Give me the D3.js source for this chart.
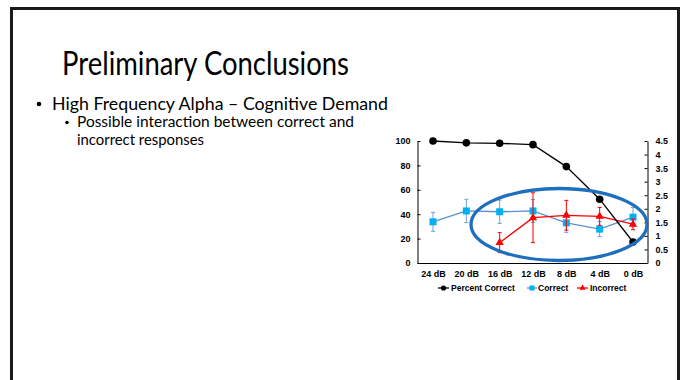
<!DOCTYPE html>
<html><head><meta charset="utf-8">
<script src="https://cdn.jsdelivr.net/npm/d3@7/dist/d3.min.js"></script>
<style>body{margin:0;background:#fff}svg{display:block}</style>
</head><body>
<svg id="c" width="685" height="380"></svg>
<script>
const categories = ["24 dB","20 dB","16 dB","12 dB","8 dB","4 dB","0 dB"];
const percentCorrect = [100, 98.5, 98.1, 97, 79, 52.3, 17.2];
const correct = [1.52, 1.92, 1.89, 1.92, 1.48, 1.25, 1.69];
const correctErr = [0.35, 0.43, 0.43, 0.42, 0.35, 0.28, 0.36];
const incorrect = [null, null, 0.75, 1.67, 1.76, 1.72, 1.43];
const incorrectErr = [null, null, 0.37, 0.92, 0.55, 0.33, 0.2];
const leftTicks = [0,20,40,60,80,100];
const rightTicks = [0,0.5,1,1.5,2,2.5,3,3.5,4,4.5];
const legendLabels = ["Percent Correct","Correct","Incorrect"];

const svg = d3.select("#c");
// slide border
svg.append("path").attr("d","M11.5,385 V8.5 H678.5 V385").attr("fill","none").attr("stroke","#1a1a1a").attr("stroke-width",3);

const slideFont = "Lato, 'Open Sans', sans-serif";
svg.append("text").attr("x",62).attr("y",75).attr("font-family",slideFont).attr("font-size",33)
  .attr("textLength",287).attr("lengthAdjust","spacingAndGlyphs").attr("fill","#000").text("Preliminary Conclusions");
svg.append("circle").attr("cx",39).attr("cy",104).attr("r",2.3).attr("fill","#000");
svg.append("text").attr("x",52).attr("y",110).attr("font-family",slideFont).attr("font-size",18)
  .attr("textLength",336).attr("lengthAdjust","spacingAndGlyphs").text("High Frequency Alpha – Cognitive Demand");
svg.append("circle").attr("cx",67).attr("cy",122.5).attr("r",1.8).attr("fill","#000");
svg.append("text").attr("x",77).attr("y",127).attr("font-family",slideFont).attr("font-size",14.5)
  .attr("textLength",277).attr("lengthAdjust","spacingAndGlyphs").text("Possible interaction between correct and");
svg.append("text").attr("x",77).attr("y",145).attr("font-family",slideFont).attr("font-size",14.5)
  .attr("textLength",127).attr("lengthAdjust","spacingAndGlyphs").text("incorrect responses");

const x = d3.scalePoint().domain(categories).range([433,633]);
const yL = d3.scaleLinear().domain([0,100]).range([263,141]);
const yR = d3.scaleLinear().domain([0,4.5]).range([263,141]);
const chartFont = "'Liberation Sans', Arial, sans-serif";

const gL = svg.append("g").attr("transform","translate(417.5,0)")
  .call(d3.axisLeft(yL).tickValues(leftTicks).tickSize(-3).tickSizeOuter(0).tickPadding(7).tickFormat(d3.format("d")));
const gR = svg.append("g").attr("transform","translate(647.5,0)")
  .call(d3.axisRight(yR).tickValues(rightTicks).tickSize(-3).tickSizeOuter(0).tickPadding(8).tickFormat(d=>String(d)));
const gB = svg.append("g").attr("transform","translate(0,263)")
  .call(d3.axisBottom(x).tickSize(0).tickPadding(8));
gB.select(".domain").attr("d","M417.5,0.5H647.5");
[gL,gR,gB].forEach(g=>{
  g.selectAll("text").attr("font-family",chartFont).attr("font-size",9).attr("font-weight","bold").attr("fill","#000");
  g.selectAll("line,path").attr("stroke","#000").attr("stroke-width",1);
});

// Correct series (right axis)
const corrColor = "#00B0F0", corrLine = "#5B8FD0";
const corrData = categories.map((c,i)=>({c,v:correct[i],e:correctErr[i]}));
svg.append("g").selectAll("path").data(corrData).join("path")
  .attr("d",d=>`M${x(d.c)},${yR(d.v+d.e)}V${yR(d.v-d.e)}M${x(d.c)-2},${yR(d.v+d.e)}H${x(d.c)+2}M${x(d.c)-2},${yR(d.v-d.e)}H${x(d.c)+2}`)
  .attr("stroke","#6A9FD8").attr("stroke-width",1).attr("fill","none");
svg.append("path").datum(corrData).attr("d",d3.line().x(d=>x(d.c)).y(d=>yR(d.v)))
  .attr("fill","none").attr("stroke",corrLine).attr("stroke-width",1.3);
svg.append("g").selectAll("rect").data(corrData).join("rect")
  .attr("x",d=>x(d.c)-3.5).attr("y",d=>yR(d.v)-3.5).attr("width",7).attr("height",7).attr("fill",corrColor);

// Incorrect series
const incData = categories.map((c,i)=>({c,v:incorrect[i],e:incorrectErr[i]})).filter(d=>d.v!=null);
svg.append("g").selectAll("path").data(incData).join("path")
  .attr("d",d=>`M${x(d.c)},${yR(d.v+d.e)}V${yR(d.v-d.e)}M${x(d.c)-2},${yR(d.v+d.e)}H${x(d.c)+2}M${x(d.c)-2},${yR(d.v-d.e)}H${x(d.c)+2}`)
  .attr("stroke","#FF0000").attr("stroke-width",1).attr("fill","none");
svg.append("path").datum(incData).attr("d",d3.line().x(d=>x(d.c)).y(d=>yR(d.v)))
  .attr("fill","none").attr("stroke","#FF0000").attr("stroke-width",1.3);
svg.append("g").selectAll("path").data(incData).join("path")
  .attr("transform",d=>`translate(${x(d.c)},${yR(d.v)})`)
  .attr("d",d3.symbol(d3.symbolTriangle,30)).attr("fill","#FF0000");

// Percent correct (left axis)
const pcData = categories.map((c,i)=>({c,v:percentCorrect[i]}));
svg.append("path").datum(pcData).attr("d",d3.line().x(d=>x(d.c)).y(d=>yL(d.v)))
  .attr("fill","none").attr("stroke","#000").attr("stroke-width",1.3);
svg.append("g").selectAll("circle").data(pcData).join("circle")
  .attr("cx",d=>x(d.c)).attr("cy",d=>yL(d.v)).attr("r",3.8).attr("fill","#000");

// annotation ellipse
svg.append("ellipse").attr("cx",559).attr("cy",224.5).attr("rx",88).attr("ry",36)
  .attr("fill","none").attr("stroke","#1F6FBF").attr("stroke-width",3.3);

// legend
const leg = svg.append("g");
const legItems = [
  {t:legendLabels[0], x0:438, x1:449, tx:451, color:"#000", sym:"circle"},
  {t:legendLabels[1], x0:527, x1:537, tx:538, color:corrLine, sym:"square", mc:corrColor},
  {t:legendLabels[2], x0:577, x1:588, tx:590, color:"#FF0000", sym:"tri", mc:"#FF0000"}
];
const ly = 288;
legItems.forEach(it=>{
  leg.append("line").attr("x1",it.x0).attr("x2",it.x1).attr("y1",ly).attr("y2",ly).attr("stroke",it.color).attr("stroke-width",1.3);
  const cx=(it.x0+it.x1)/2;
  if(it.sym==="circle") leg.append("circle").attr("cx",cx).attr("cy",ly).attr("r",2.6).attr("fill","#000");
  else if(it.sym==="square") leg.append("rect").attr("x",cx-2.5).attr("y",ly-2.5).attr("width",5).attr("height",5).attr("fill",it.mc);
  else leg.append("path").attr("transform",`translate(${cx},${ly})`).attr("d",d3.symbol(d3.symbolTriangle,16)).attr("fill",it.mc);
  leg.append("text").attr("x",it.tx).attr("y",ly+3).attr("font-family",chartFont).attr("font-size",8.5).attr("font-weight","bold").text(it.t);
});
</script>
</body></html>
